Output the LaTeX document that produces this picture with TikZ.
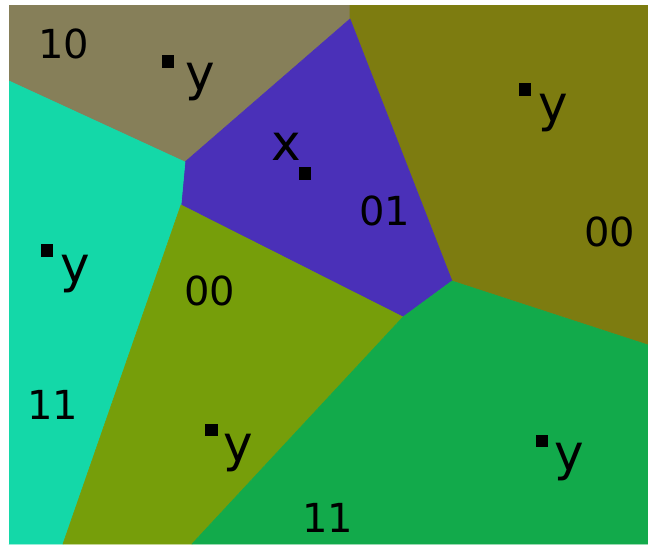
\documentclass[tikz,border=0pt]{standalone}
\usepackage{fontspec}
\setmainfont{DejaVu Sans}
\definecolor{ctan}{HTML}{867F59}
\definecolor{colive}{HTML}{7D7C10}
\definecolor{cpurple}{HTML}{4A30B8}
\definecolor{ccyan}{HTML}{14D8A8}
\definecolor{cyg}{HTML}{769E0A}
\definecolor{cgreen}{HTML}{12AA4B}
\tikzset{
  cell/.style={fill=#1, draw=#1, line width=0.6pt, line join=round},
  digit/.style={inner sep=0pt, anchor=center, font=\fontsize{40}{48}\selectfont},
  letter/.style={inner sep=0pt, anchor=base west, font=\fontsize{50}{60}\selectfont},
  site/.style={fill=black, draw=none, minimum width=12.5pt, minimum height=12.5pt, inner sep=0pt, shape=rectangle}
}
\begin{document}
\begin{tikzpicture}[x=1pt,y=-1pt]
\useasboundingbox (0,0) rectangle (648,544);
\fill[white] (0,0) rectangle (648,544);
% cells
\draw[cell=ctan] (9,5) -- (350,5) -- (350,19) -- (185,162) -- (9,81) -- cycle;
\draw[cell=colive] (350,5) -- (648,5) -- (648,345) -- (452,281) -- (350,19) -- cycle;
\draw[cell=cpurple] (350,19) -- (452,281) -- (403,317) -- (181,205) -- (185,162) -- cycle;
\draw[cell=ccyan] (9,81) -- (185,162) -- (181,205) -- (63,544) -- (9,544) -- cycle;
\draw[cell=cyg] (181,205) -- (403,317) -- (192,544) -- (63,544) -- cycle;
\draw[cell=cgreen] (403,317) -- (452,281) -- (648,345) -- (648,544) -- (192,544) -- cycle;
% repaint outer frame edges clean
\fill[white] (0,0) rectangle (8.7,544);
\fill[white] (0,0) rectangle (648,4.7);
% digit labels
\node[digit] (l10) at (64,44) {10};
\node[digit] (l01) at (385,211) {01};
\node[digit] (l00r) at (610,232) {00};
\node[digit] (l00m) at (210,291) {00};
\node[digit] (l11l) at (53,405) {11};
\node[digit] (l11b) at (328,518) {11};
% sites
\node[site] (s1) at (168,61.5) {};
\node[site] (s2) at (305,173.5) {};
\node[site] (s3) at (47,250.5) {};
\node[site] (s4) at (525,89.5) {};
\node[site] (s5) at (211.5,430) {};
\node[site] (s6) at (542,441) {};
% letters
\node[letter] (t1) at (185.5,90) {y};
\node[letter] (t2) at (271.5,160) {x};
\node[letter] (t3) at (60.5,282) {y};
\node[letter] (t4) at (538.5,121) {y};
\node[letter] (t5) at (223.5,461) {y};
\node[letter] (t6) at (554,470) {y};
\end{tikzpicture}
\end{document}
